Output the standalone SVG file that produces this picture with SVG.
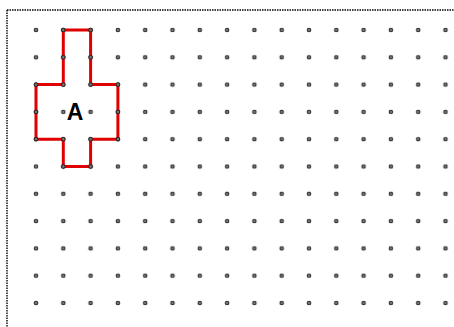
<svg xmlns="http://www.w3.org/2000/svg" width="454" height="327" viewBox="0 0 454 327">
<defs>
<style>
.dot{fill:#777;stroke:#222;stroke-width:1}
.border{fill:none;stroke:#000;stroke-width:1.4;stroke-dasharray:1.5 1}
.shape{fill:none;stroke:#e00000;stroke-width:3;stroke-linejoin:miter}
.lbl{font-family:"Liberation Sans",Arial,sans-serif;font-weight:bold;font-size:23px;fill:#000}
</style>
<pattern id="grid" x="22.35" y="16.35" width="27.3" height="27.3" patternUnits="userSpaceOnUse">
<circle class="dot" cx="13.65" cy="13.65" r="1.8"/>
</pattern>
</defs>
<rect width="454" height="327" fill="#fff"/>
<path class="border" d="M7 10 H454 M7 10 V327"/>
<rect x="22" y="16" width="432" height="311" fill="url(#grid)"/>
<g id="shapeA">
<polygon class="shape" points="63.3,30 90.6,30 90.6,84.6 117.9,84.6 117.9,139.2 90.6,139.2 90.6,166.5 63.3,166.5 63.3,139.2 36,139.2 36,84.6 63.3,84.6"/>
<circle class="dot" cx="63.3" cy="30" r="1.8"/><circle class="dot" cx="90.6" cy="30" r="1.8"/>
<circle class="dot" cx="63.3" cy="57.3" r="1.8"/><circle class="dot" cx="90.6" cy="57.3" r="1.8"/>
<circle class="dot" cx="36" cy="84.6" r="1.8"/><circle class="dot" cx="63.3" cy="84.6" r="1.8"/><circle class="dot" cx="90.6" cy="84.6" r="1.8"/><circle class="dot" cx="117.9" cy="84.6" r="1.8"/>
<circle class="dot" cx="36" cy="111.9" r="1.8"/><circle class="dot" cx="117.9" cy="111.9" r="1.8"/>
<circle class="dot" cx="36" cy="139.2" r="1.8"/><circle class="dot" cx="63.3" cy="139.2" r="1.8"/><circle class="dot" cx="90.6" cy="139.2" r="1.8"/><circle class="dot" cx="117.9" cy="139.2" r="1.8"/>
<circle class="dot" cx="63.3" cy="166.5" r="1.8"/><circle class="dot" cx="90.6" cy="166.5" r="1.8"/>
<text class="lbl" x="75" y="119.5" text-anchor="middle">A</text>
</g>
</svg>
